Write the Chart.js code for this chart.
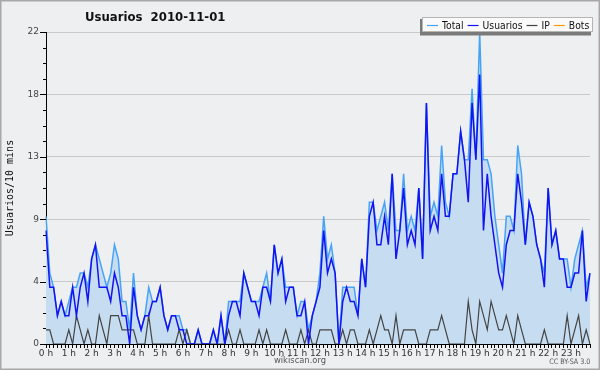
<!DOCTYPE html>
<html lang="es">
<head>
  <meta charset="UTF-8">
  <title>Usuarios 2010-11-01</title>
  <script src="https://cdn.jsdelivr.net/npm/chart.js@4"></script>
  <style>
    html, body { margin: 0; padding: 0; background: #eeeff1; }
    #wrap { position: relative; width: 600px; height: 370px; overflow: hidden; }
    #wrap canvas { position: absolute; left: 0; top: 0; }
    .txt {
      position: absolute;
      font-family: 'DejaVu Sans', sans-serif;
      white-space: pre;
    }
    #title { left: 85px; top: 10px; font-size: 13px; line-height: 13px; font-weight: bold; color: #111;
             transform: scaleX(0.9); transform-origin: 0 0; }
    #site { left: 0; width: 600px; text-align: center; top: 355px; font-size: 9.5px; line-height: 10px; color: #555;
            transform: scaleX(0.88); transform-origin: 50% 0; }
    #lic { right: 10px; top: 358px; font-size: 7.5px; line-height: 8px; color: #555;
           transform: scaleX(0.85); transform-origin: 100% 0; }
  </style>
</head>
<body>
  <div id="wrap">
    <canvas id="chart" width="600" height="370"></canvas>
    <div class="txt" id="title">Usuarios  2010-11-01</div>
    <div class="txt" id="site">wikiscan.org</div>
    <div class="txt" id="lic">CC BY-SA 3.0</div>
  </div>

  <script>
    // one value every 10 minutes, 144 slots
    const hours = ['0 h', '1 h', '2 h', '3 h', '4 h', '5 h', '6 h', '7 h', '8 h', '9 h', '10 h', '11 h',
                   '12 h', '13 h', '14 h', '15 h', '16 h', '17 h', '18 h', '19 h', '20 h', '21 h', '22 h', '23 h'];

    const total = [
      9, 5, 4, 2, 3, 2, 3, 4, 4, 5, 5, 4,
      6, 7, 6, 5, 4, 5, 7, 6, 3, 3, 1, 5,
      2, 1, 2, 4, 3, 3, 4, 2, 1, 2, 2, 2,
      1, 1, 0, 0, 1, 0, 0, 0, 1, 0, 2, 0,
      3, 3, 3, 3, 5, 4, 3, 3, 3, 4, 5, 3,
      7, 5, 6, 4, 4, 4, 2, 3, 3, 1, 2, 3,
      5, 9, 6, 7, 5, 0, 4, 4, 4, 4, 2, 6,
      4, 10, 10, 8, 9, 10, 8, 12, 8, 8, 12, 8,
      9, 8, 11, 6, 17, 9, 10, 9, 14, 10, 9, 12,
      12, 15, 13, 13, 18, 13, 22, 13, 13, 12, 9, 7,
      5, 9, 9, 8, 14, 12, 7, 10, 9, 7, 6, 5,
      11, 7, 8, 6, 6, 6, 4, 6, 7, 8, 4, 5
    ];

    const usuarios = [
      8, 4, 4, 2, 3, 2, 2, 4, 2, 4, 5, 3,
      6, 7, 4, 4, 4, 3, 5, 4, 2, 2, 0, 4,
      2, 1, 2, 2, 3, 3, 4, 2, 1, 2, 2, 1,
      1, 0, 0, 0, 1, 0, 0, 0, 1, 0, 2, 0,
      2, 3, 3, 2, 5, 4, 3, 3, 2, 4, 4, 3,
      7, 5, 6, 3, 4, 4, 2, 2, 3, 0, 2, 3,
      4, 8, 5, 6, 5, 0, 3, 4, 3, 3, 2, 6,
      4, 9, 10, 7, 7, 9, 7, 12, 6, 8, 11, 7,
      8, 7, 11, 6, 17, 8, 9, 8, 12, 9, 9, 12,
      12, 15, 13, 10, 17, 13, 19, 8, 12, 9, 7, 5,
      4, 7, 8, 8, 12, 10, 7, 10, 9, 7, 6, 4,
      11, 7, 8, 6, 6, 4, 4, 5, 5, 8, 3, 5
    ];

    const ip = [
      1, 1, 0, 0, 0, 0, 1, 0, 2, 1, 0, 1,
      0, 0, 2, 1, 0, 2, 2, 2, 1, 1, 1, 1,
      0, 0, 0, 2, 0, 0, 0, 0, 0, 0, 0, 1,
      0, 1, 0, 0, 0, 0, 0, 0, 0, 0, 0, 0,
      1, 0, 0, 1, 0, 0, 0, 0, 1, 0, 1, 0,
      0, 0, 0, 1, 0, 0, 0, 1, 0, 1, 0, 0,
      1, 1, 1, 1, 0, 0, 1, 0, 1, 1, 0, 0,
      0, 1, 0, 1, 2, 1, 1, 0, 2, 0, 1, 1,
      1, 1, 0, 0, 0, 1, 1, 1, 2, 1, 0, 0,
      0, 0, 0, 3, 1, 0, 3, 2, 1, 3, 2, 1,
      1, 2, 1, 0, 2, 1, 0, 0, 0, 0, 0, 1,
      0, 0, 0, 0, 0, 2, 0, 1, 2, 0, 1, 0
    ];

    const bots = [
      0, 0, 0, 0, 0, 0, 0, 0, 0, 0, 0, 0,
      0, 0, 0, 0, 0, 0, 0, 0, 0, 0, 0, 0,
      0, 0, 0, 0, 0, 0, 0, 0, 0, 0, 0, 0,
      0, 0, 0, 0, 0, 0, 0, 0, 0, 0, 0, 0,
      0, 0, 0, 0, 0, 0, 0, 0, 0, 0, 0, 0,
      0, 0, 0, 0, 0, 0, 0, 0, 0, 0, 0, 0,
      0, 0, 0, 0, 0, 0, 0, 0, 0, 0, 0, 0,
      0, 0, 0, 0, 0, 0, 0, 0, 0, 0, 0, 0,
      0, 0, 0, 0, 0, 0, 0, 0, 0, 0, 0, 0,
      0, 0, 0, 0, 0, 0, 0, 0, 0, 0, 0, 0,
      0, 0, 0, 0, 0, 0, 0, 0, 0, 0, 0, 0,
      0, 0, 0, 0, 0, 0, 0, 0, 0, 0, 0, 0
    ];

    const slots = total.map((_, i) => hours[Math.floor(i / 6)] + ' ' + (i % 6) + '0');

    const FONT = "'DejaVu Sans', sans-serif";
    Chart.defaults.font.family = FONT;

    function isMajor(v) {
      return Math.abs(v / 4.4 - Math.round(v / 4.4)) < 0.01;
    }

    // background + frame
    const frame = {
      id: 'frame',
      beforeDraw(chart) {
        const ctx = chart.ctx;
        ctx.save();
        ctx.fillStyle = '#eeeff1';
        ctx.fillRect(0, 0, chart.width, chart.height);
        ctx.restore();
      },
      afterDraw(chart) {
        const ctx = chart.ctx;
        ctx.save();
        ctx.strokeStyle = '#a8a8a8';
        ctx.lineWidth = 1.5;
        ctx.strokeRect(0.75, 0.75, chart.width - 1.5, chart.height - 1.5);
        ctx.restore();
      }
    };

    // small y tick marks: long at labelled values, short in between
    const yTicks = {
      id: 'yTicks',
      afterDraw(chart) {
        const y = chart.scales.y, ctx = chart.ctx;
        ctx.save();
        ctx.strokeStyle = '#000';
        ctx.lineWidth = 1;
        y.ticks.forEach(t => {
          const py = Math.round(y.getPixelForValue(t.value)) + 0.5;
          const len = isMajor(t.value) ? 6 : 3;
          ctx.beginPath();
          ctx.moveTo(y.right - len, py);
          ctx.lineTo(y.right, py);
          ctx.stroke();
        });
        ctx.restore();
      }
    };

    // boxed legend in the top right corner (text squeezed a bit, like a condensed face)
    const boxLegend = {
      id: 'boxLegend',
      afterDraw(chart) {
        const ctx = chart.ctx;
        const bx = 422, by = 17, bw = 171, bh = 15;
        const squeeze = 0.84;
        ctx.save();
        ctx.fillStyle = '#7a7a7a';
        ctx.fillRect(bx - 2, by + 2, bw, bh + 1.5);
        ctx.fillStyle = '#fafafa';
        ctx.fillRect(bx, by, bw, bh);
        ctx.strokeStyle = '#b5b5b5';
        ctx.lineWidth = 1;
        ctx.strokeRect(bx + 0.5, by + 0.5, bw - 1, bh - 1);
        ctx.font = '11px ' + FONT;
        ctx.textBaseline = 'alphabetic';
        let x = bx + 5;
        chart.data.datasets.forEach(ds => {
          ctx.strokeStyle = ds.borderColor;
          ctx.lineWidth = 1.2;
          ctx.beginPath();
          ctx.moveTo(x, by + 8.5);
          ctx.lineTo(x + 11, by + 8.5);
          ctx.stroke();
          x += 15;
          ctx.save();
          ctx.translate(x, by + 12);
          ctx.scale(squeeze, 1);
          ctx.fillStyle = '#111';
          ctx.fillText(ds.label, 0, 0);
          ctx.restore();
          x += ctx.measureText(ds.label).width * squeeze + 4;
        });
        ctx.restore();
      }
    };

    new Chart(document.getElementById('chart'), {
      type: 'line',
      data: {
        labels: slots,
        datasets: [
          { label: 'Total', data: total, borderColor: '#46a3f5', backgroundColor: '#c6dcf0',
            fill: 'origin', borderWidth: 1.5, pointRadius: 0, tension: 0, order: 3 },
          { label: 'Usuarios', data: usuarios, borderColor: '#1212f2', backgroundColor: '#1212f2',
            fill: false, borderWidth: 1.5, pointRadius: 0, tension: 0, order: 1 },
          { label: 'IP', data: ip, borderColor: '#444444', backgroundColor: '#444444',
            fill: false, borderWidth: 1.2, pointRadius: 0, tension: 0, order: 2 },
          { label: 'Bots', data: bots, borderColor: '#ff9a00', backgroundColor: '#ff9a00',
            fill: false, borderWidth: 1.2, pointRadius: 0, tension: 0, order: 4, clip: 0 }
        ]
      },
      options: {
        responsive: false,
        animation: false,
        devicePixelRatio: 1,
        layout: { padding: { left: 0, right: 10, top: 32, bottom: 0 } },
        plugins: {
          legend: { display: false },
          tooltip: { enabled: false },
          title: { display: false }
        },
        scales: {
          x: {
            type: 'category',
            z: 1,
            grid: { drawOnChartArea: false, drawTicks: true, tickLength: 4, tickColor: '#000', tickWidth: 1 },
            border: { display: true, color: '#000', width: 1 },
            ticks: {
              autoSkip: false, maxRotation: 0, minRotation: 0, padding: 0,
              color: '#333', font: { size: 9 },
              callback: (v, i) => (i % 6 === 0 ? hours[i / 6] : '')
            },
            afterFit: s => { s.height = 26; }
          },
          y: {
            min: 0,
            max: 22,
            ticks: {
              stepSize: 1.1, autoSkip: false, padding: 7,
              color: '#444', font: { size: 9 },
              callback: v => (isMajor(v) ? String(Math.round(v)) : '')
            },
            grid: {
              drawTicks: false,
              color: c => (c.tick && isMajor(c.tick.value) ? '#c9c9c9' : 'rgba(0,0,0,0)')
            },
            border: { display: true, color: '#000', width: 1 },
            title: {
              display: true,
              text: 'Usuarios/10 mins',
              color: '#111',
              font: { family: "'DejaVu Sans Mono', monospace", size: 10 },
              padding: { top: 4, bottom: 0 }
            },
            afterFit: s => { s.width = 46; }
          }
        }
      },
      plugins: [frame, yTicks, boxLegend]
    });
  </script>
</body>
</html>
